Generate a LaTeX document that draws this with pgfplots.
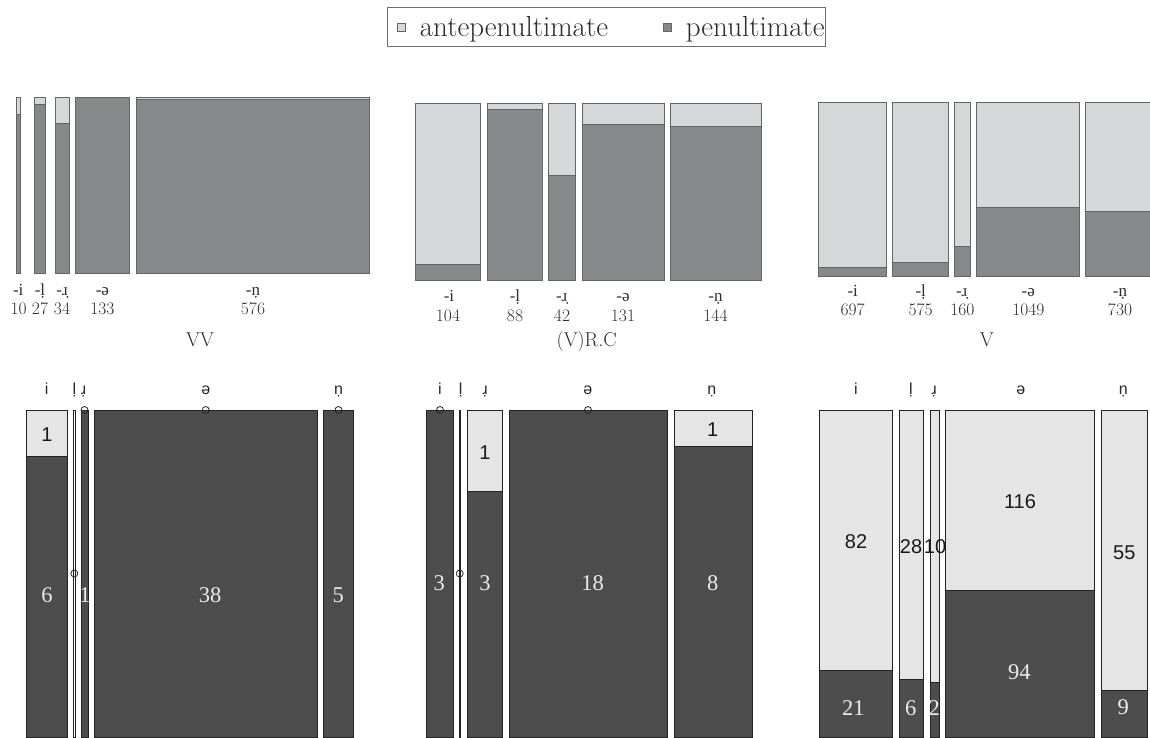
\documentclass[border=0pt]{standalone}
\usepackage{pgfplots}
\pgfplotsset{compat=1.18}
\usepackage{fontspec}
\newfontfamily\ipaserif{Liberation Serif}
\newfontfamily\ipasans{Liberation Sans}
\newfontfamily\tserif{Liberation Serif}
\definecolor{tlight}{RGB}{214,215,217}
\definecolor{tdark}{RGB}{135,136,138}
\definecolor{tedge}{RGB}{100,101,103}
\definecolor{blight}{RGB}{229,229,229}
\definecolor{bdark}{RGB}{77,77,77}
\definecolor{bedge}{RGB}{35,35,35}
\definecolor{txt}{RGB}{45,45,45}
\definecolor{legedge}{RGB}{110,110,110}
\pgfplotsset{
  tl/.style={fill=tlight,draw=tedge,line width=0.9pt,forget plot},
  td/.style={fill=tdark,draw=tedge,line width=0.9pt,forget plot},
  bl/.style={fill=blight,draw=bedge,line width=0.9pt,forget plot},
  bd/.style={fill=bdark,draw=bedge,line width=0.9pt,forget plot},
  bz/.style={fill=white,draw=bedge,line width=0.7pt,forget plot},
  zc/.style={only marks,mark=o,mark size=3.5pt,mark options={draw=bedge,line width=0.8pt},forget plot},
  sqleg/.style={legend image code/.code={\path (0pt,0pt); \draw[##1] (10pt,-4pt) rectangle (18pt,4pt);}},
  panel/.style={scale only axis,width=1150pt,xmin=0,xmax=1150,ymin=0,ymax=1,hide axis,clip=false,anchor=south west},
}
% bar segment: x0, x1, y0, y1, style
\newcommand{\mrect}[5]{\addplot[#5] coordinates {(#1,#3) (#2,#3) (#2,#4) (#1,#4)} -- cycle;}
\newcommand{\toplab}[3]{\node[anchor=base,font=\ipaserif\fontsize{17}{17}\selectfont,text=txt,inner sep=0pt] at (#1,#2) {#3};}
\newcommand{\topnum}[3]{\node[anchor=center,font=\fontsize{17.5}{17.5}\selectfont,text=txt,inner sep=0pt] at (#1,#2) {#3};}
\newcommand{\toptitle}[3]{\node[anchor=base,font=\fontsize{20}{20}\selectfont,text=txt,inner sep=0pt] at (#1,#2) {#3};}
\newcommand{\botlab}[2]{\node[anchor=base,font=\ipasans\fontsize{16}{16}\selectfont,text=black!85,inner sep=0pt] at (#1,394) {#2};}
\newcommand{\lnum}[3]{\node[anchor=center,font=\ipasans\fontsize{20}{20}\selectfont,text=black!90,inner sep=0pt] at (#1,#2) {#3};}
\newcommand{\dnum}[3]{\node[anchor=center,font=\tserif\fontsize{22.5}{22.5}\selectfont,text=white!92!black,inner sep=0pt] at (#1,#2) {#3};}
\begin{document}
\begin{tikzpicture}
\path[use as bounding box] (0pt,0pt) rectangle (1150pt,-737pt);
\clip (0pt,0pt) rectangle (1150pt,-737pt);

% ---------------- VV ----------------
\begin{axis}[panel,height=176pt,at={(0pt,-273.3pt)},
  legend columns=2,
  legend style={at={(axis description cs:0.52726,1.399)},anchor=center,
    draw=legedge,line width=0.9pt,text=txt,
    font=\fontsize{29}{31}\selectfont,inner xsep=0pt,inner ysep=7pt,
    nodes={inner xsep=1pt},
    /tikz/every odd column/.append style={column sep=13pt},
    /tikz/every even column/.append style={column sep=44pt}}]
\addlegendimage{sqleg,fill=tlight,draw=tedge,line width=0.8pt}
\addlegendimage{sqleg,fill=tdark,draw=tedge,line width=0.8pt}
\legend{antepenultimate,penultimate}
\mrect{16}{20.3}{0}{0.90}{td}    \mrect{16}{20.3}{0.90}{1}{tl}
\mrect{34.3}{45.7}{0}{0.962}{td} \mrect{34.3}{45.7}{0.962}{1}{tl}
\mrect{55}{69}{0}{0.852}{td}     \mrect{55}{69}{0.852}{1}{tl}
\mrect{75}{129.7}{0}{1}{td}
\mrect{136}{369.7}{0}{0.99}{td}  \mrect{136}{369.7}{0.99}{1}{tl}
\end{axis}

% ---------------- (V)R.C ----------------
\begin{axis}[panel,height=177.4pt,at={(0pt,-280.7pt)}]
\mrect{415}{480.7}{0}{0.094}{td}   \mrect{415}{480.7}{0.094}{1}{tl}
\mrect{487}{542.7}{0}{0.968}{td}   \mrect{487}{542.7}{0.968}{1}{tl}
\mrect{548.3}{575.3}{0}{0.594}{td} \mrect{548.3}{575.3}{0.594}{1}{tl}
\mrect{582}{664}{0}{0.878}{td}     \mrect{582}{664}{0.878}{1}{tl}
\mrect{670}{761}{0}{0.870}{td}     \mrect{670}{761}{0.870}{1}{tl}
\end{axis}

% ---------------- V ----------------
\begin{axis}[panel,height=173.7pt,at={(0pt,-276pt)}]
\mrect{818.3}{886.7}{0}{0.050}{td}  \mrect{818.3}{886.7}{0.050}{1}{tl}
\mrect{892.3}{948.7}{0}{0.079}{td}  \mrect{892.3}{948.7}{0.079}{1}{tl}
\mrect{954.7}{970.7}{0}{0.171}{td}  \mrect{954.7}{970.7}{0.171}{1}{tl}
\mrect{976.7}{1079}{0}{0.392}{td}   \mrect{976.7}{1079}{0.392}{1}{tl}
\mrect{1085}{1156.3}{0}{0.372}{td}  \mrect{1085}{1156.3}{0.372}{1}{tl}
\end{axis}

% ---------------- bottom row (counts) ----------------
\begin{axis}[panel,height=327pt,at={(0pt,-737pt)}]
% zero-count markers at the top of bars
\addplot[zc] coordinates {(84.5,1) (205.7,1) (338.5,1) (440,1) (588,1)};
% left panel: i 1/6, l 0, r 0/1, schwa 0/38, n 0/5
\mrect{26}{67.7}{0}{0.857}{bd}   \mrect{26}{67.7}{0.857}{1}{bl}
\mrect{73.6}{75.0}{0}{1}{bz}
\mrect{81}{88}{0}{1}{bd}
\mrect{94.3}{317}{0}{1}{bd}
\mrect{323.7}{353.3}{0}{1}{bd}
% middle panel: i 0/3, l 0, r 1/3, schwa 0/18, n 1/8
\mrect{426.7}{453}{0}{1}{bd}
\mrect{459.0}{460.4}{0}{1}{bz}
\mrect{467.3}{502.3}{0}{0.75}{bd} \mrect{467.3}{502.3}{0.75}{1}{bl}
\mrect{509}{667}{0}{1}{bd}
\mrect{674}{752.7}{0}{0.889}{bd}  \mrect{674}{752.7}{0.889}{1}{bl}
% right panel: i 82/21, l 28/6, r 10/2, schwa 116/94, n 55/9
\mrect{819}{892.3}{0}{0.204}{bd}    \mrect{819}{892.3}{0.204}{1}{bl}
\mrect{899.3}{923.7}{0}{0.176}{bd}  \mrect{899.3}{923.7}{0.176}{1}{bl}
\mrect{930}{939.7}{0}{0.167}{bd}    \mrect{930}{939.7}{0.167}{1}{bl}
\mrect{945.7}{1094.7}{0}{0.448}{bd} \mrect{945.7}{1094.7}{0.448}{1}{bl}
\mrect{1101.3}{1147}{0}{0.141}{bd}  \mrect{1101.3}{1147}{0.141}{1}{bl}
\addplot[zc] coordinates {(74.3,0.5) (459.7,0.5)};
\end{axis}

% ---------------- text ----------------
\begin{scope}[x=1pt,y=-1pt]
% VV
\toplab{18.2}{295}{-i}\toplab{40}{295}{-ḷ}\toplab{62}{295}{-ɹ̣}\toplab{102.4}{295}{-ə}\toplab{253}{295}{-ṇ}
\topnum{18.6}{309}{10}\topnum{40}{309}{27}\topnum{62}{309}{34}\topnum{102.4}{309}{133}\topnum{253}{309}{576}
\toptitle{200}{346.7}{VV}
% (V)R.C
\toplab{449}{301.7}{-i}\toplab{515}{301.7}{-ḷ}\toplab{561.7}{301.7}{-ɹ̣}\toplab{623}{301.7}{-ə}\toplab{715.5}{301.7}{-ṇ}
\topnum{448}{315.8}{104}\topnum{515}{315.8}{88}\topnum{562}{315.8}{42}\topnum{623}{315.8}{131}\topnum{715.5}{315.8}{144}
\toptitle{586.7}{346.7}{(V)R.C}
% V
\toplab{852.7}{296.7}{-i}\toplab{920.7}{296.7}{-ḷ}\toplab{961.7}{296.7}{-ɹ̣}\toplab{1028.3}{296.7}{-ə}\toplab{1120}{296.7}{-ṇ}
\topnum{852.7}{309.7}{697}\topnum{920.7}{309.7}{575}\topnum{962.3}{309.7}{160}\topnum{1028.3}{309.7}{1049}\topnum{1120}{309.7}{730}
\toptitle{986.7}{346.7}{V}
% bottom-left
\botlab{46.7}{i}\botlab{74.3}{ḷ}\botlab{83.5}{ɹ̣}\botlab{205.7}{ə}\botlab{338.5}{ṇ}
\lnum{47}{435}{1}
\dnum{47}{595}{6}\dnum{85}{595}{1}\dnum{210}{595}{38}\dnum{338.3}{595}{5}
% bottom-middle
\botlab{440}{i}\botlab{460.7}{ḷ}\botlab{485}{ɹ̣}\botlab{587.7}{ə}\botlab{711.7}{ṇ}
\lnum{485}{452.7}{1}\lnum{712.7}{430}{1}
\dnum{439.3}{582.7}{3}\dnum{485}{582.7}{3}\dnum{592.7}{582.7}{18}\dnum{712.7}{582.7}{8}
% bottom-right
\botlab{856}{i}\botlab{911}{ḷ}\botlab{934}{ɹ̣}\botlab{1020.7}{ə}\botlab{1123.3}{ṇ}
\lnum{856}{541.7}{82}\lnum{911}{546.7}{28}\lnum{935}{546.7}{10}\lnum{1020}{501.7}{116}\lnum{1124.3}{552.3}{55}
\dnum{853.3}{708.3}{21}\dnum{910.7}{708.3}{6}\dnum{934.3}{708.3}{2}\dnum{1019.3}{671.7}{94}\dnum{1123.3}{706.7}{9}
\end{scope}
\end{tikzpicture}
\end{document}
